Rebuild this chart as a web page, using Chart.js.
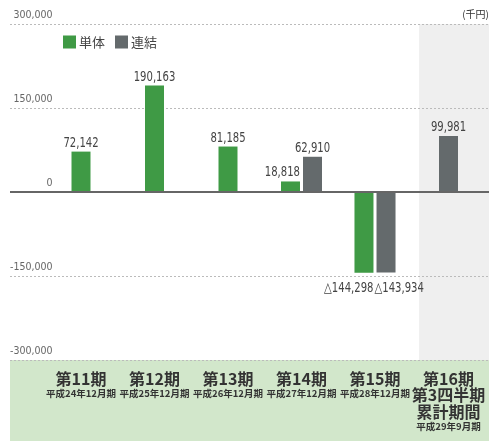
<!DOCTYPE html>
<html>
<head>
<meta charset="utf-8">
<script src="https://cdn.jsdelivr.net/npm/chart.js@4.4.1/dist/chart.umd.min.js"></script>
<style>
html, body { margin: 0; padding: 0; background: #fff; }
#wrap { position: relative; width: 489px; height: 441px; }
</style>
</head>
<body>
<div id="wrap"><canvas id="c"></canvas></div>
<script>
// 経常利益 (千円)
var periods   = ['第11期', '第12期', '第13期', '第14期', '第15期', ['第16期', '第3四半期', '累計期間']];
var subLabels = ['平成24年12月期', '平成25年12月期', '平成26年12月期', '平成27年12月期', '平成28年12月期', '平成29年9月期'];
var tantai    = [72142, 190163, 81185, 18818, -144298, null];
var renketsu  = [null, null, null, 62910, -143934, 99981];
var yTicks    = [-300000, -150000, 0, 150000, 300000];

var xMin = -0.966, xMax = 5.551;
var jp = '"Noto Sans CJK JP", sans-serif';
var cond = '"DejaVu Sans Condensed", sans-serif';

function fmt(v) {
    return (v < 0 ? '△' : '') + Math.abs(v).toLocaleString('en-US');
}
function toPoints(arr) {
    return arr.map(function(v, i) { return { x: i, y: v }; });
}
function catTicks(s) {
    s.ticks = periods.map(function(p, i) { return { value: i }; });
}

var bgPlugin = {
    id: 'bg',
    beforeDraw: function(chart) {
        var a = chart.chartArea, ctx = chart.ctx;
        var l = chart.scales.x.getPixelForValue(4.6);
        ctx.save();
        ctx.fillStyle = '#efefef';
        ctx.fillRect(l, a.top, a.right - l, a.bottom - a.top);
        ctx.fillStyle = '#d2e7cb';
        ctx.fillRect(a.left, a.bottom, a.right - a.left, chart.height - a.bottom);
        ctx.restore();
    }
};

// 棒の上(下)に値を書く
var valuePlugin = {
    id: 'values',
    afterDatasetsDraw: function(chart) {
        var ctx = chart.ctx;
        [tantai, renketsu].forEach(function(src, di) {
            var meta = chart.getDatasetMeta(di);
            meta.data.forEach(function(bar, i) {
                var v = src[i];
                if (v == null) return;
                var paired = tantai[i] != null && renketsu[i] != null;
                var x = bar.x, align = 'center';
                if (paired && di == 0) { align = 'right'; x = bar.x + bar.width / 2; }
                if (paired && di == 1 && v < 0) { align = 'left'; x = bar.x - bar.width / 2 - 2; }
                ctx.save();
                ctx.translate(x, v >= 0 ? bar.y - 5 : bar.y + 19);
                ctx.scale(0.8, 1);
                ctx.font = '14px ' + cond;
                ctx.fillStyle = '#444';
                ctx.textBaseline = 'alphabetic';
                ctx.textAlign = align;
                ctx.fillText(fmt(v), 0, 0);
                ctx.restore();
            });
        });
    }
};

var legendPlugin = {
    id: 'legendIn',
    afterDraw: function(chart) {
        var ctx = chart.ctx, a = chart.chartArea;
        var x = a.left + 53, y = a.top + 18;
        ctx.save();
        ctx.font = '13px ' + jp;
        ctx.textBaseline = 'middle';
        ctx.textAlign = 'left';
        chart.data.datasets.forEach(function(ds) {
            ctx.fillStyle = ds.backgroundColor;
            ctx.fillRect(x, y - 6.5, 13, 13);
            ctx.fillStyle = '#444';
            ctx.fillText(ds.label, x + 16, y);
            x += 16 + ctx.measureText(ds.label).width + 10;
        });
        ctx.restore();
    }
};

new Chart(document.getElementById('c'), {
    type: 'bar',
    data: {
        datasets: [
            { label: '単体', data: toPoints(tantai), backgroundColor: '#3f9a45' },
            { label: '連結', data: toPoints(renketsu), backgroundColor: '#646a6c' }
        ]
    },
    options: {
        responsive: true,
        maintainAspectRatio: false,
        animation: false,
        devicePixelRatio: 1,
        categoryPercentage: 0.6,
        barPercentage: 1,
        maxBarThickness: 19,
        skipNull: true,
        layout: { padding: { left: 10, right: 0, top: 0, bottom: 0 } },
        plugins: {
            legend: { display: false },
            tooltip: { enabled: false },
            title: {
                display: true, text: '(千円)', align: 'end', color: '#333',
                font: { family: jp, size: 10, weight: 'normal', lineHeight: 1.2 },
                padding: { top: 8, bottom: 4 }
            }
        },
        scales: {
            x: {
                type: 'linear', position: 'bottom', min: xMin, max: xMax, bounds: 'data', offset: false,
                grid: { display: false, drawTicks: false }, border: { display: false },
                afterBuildTicks: catTicks,
                afterFit: function(s) { s.height = 81; s.paddingLeft = 0; s.paddingRight = 0; },
                ticks: {
                    autoSkip: false, maxRotation: 0, minRotation: 0, padding: 10.25, color: '#333',
                    font: { family: jp, size: 16, weight: 'bold', lineHeight: 1.03 },
                    callback: function(v) { return periods[v]; }
                }
            },
            x2: {
                type: 'linear', position: { y: -300000 }, axis: 'x', min: xMin, max: xMax, bounds: 'data', offset: false,
                grid: { display: false, drawTicks: false }, border: { display: false },
                afterBuildTicks: catTicks,
                afterFit: function(s) { s.height = 0; s.paddingLeft = 0; s.paddingRight = 0; },
                ticks: {
                    autoSkip: false, maxRotation: 0, minRotation: 0, padding: 27.8, color: '#333',
                    font: function(c) {
                        return { family: jp, size: 9.5, weight: 'bold', lineHeight: c.index == 5 ? 1.608 : 1.2 };
                    },
                    callback: function(v) { return v == 5 ? ['', '', subLabels[v]] : subLabels[v]; }
                }
            },
            y: {
                min: -300000, max: 300000,
                afterBuildTicks: function(s) { s.ticks = yTicks.map(function(v) { return { value: v }; }); },
                grid: {
                    drawTicks: false,
                    color: function(c) { return c.tick && c.tick.value == 0 ? '#666' : '#bbb'; },
                    lineWidth: function(c) { return c.tick && c.tick.value == 0 ? 2 : 1; }
                },
                border: {
                    display: false,
                    dash: function(c) { return c.tick && c.tick.value == 0 ? [] : [2, 2]; }
                },
                ticks: {
                    mirror: true, crossAlign: 'far', padding: 0, labelOffset: -8.5, color: '#666',
                    font: { family: cond, size: 10.5 },
                    callback: function(v) { return v.toLocaleString('en-US'); }
                }
            }
        }
    },
    plugins: [bgPlugin, valuePlugin, legendPlugin]
});
</script>
</body>
</html>
